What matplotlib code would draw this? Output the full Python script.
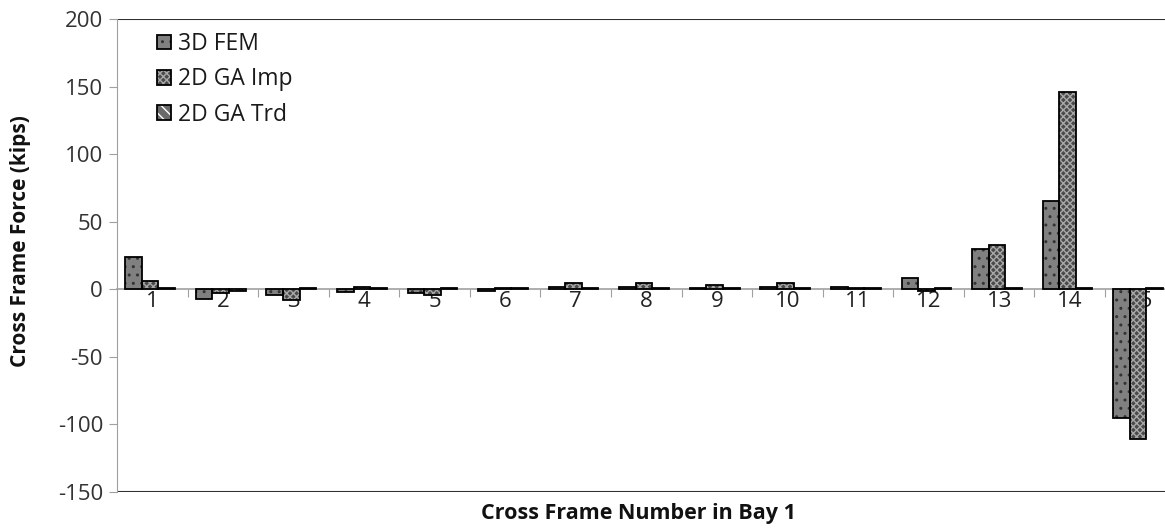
import matplotlib
matplotlib.use("Agg")
import matplotlib.pyplot as plt
from matplotlib.patches import Patch
import numpy as np

categories = [str(i) for i in range(1, 16)]
fem = [24, -7, -4, -2, -3, -1, 2, 2, 1, 2, 2, 8, 30, 65, -95]
ga_imp = [6, -3, -8, 2, -4, 1, 5, 5, 3, 5, 1, -1, 33, 146, -111]
ga_trd = [1, -1, 1, 1, 1, 1, 1, 1, 1, 1, 1, 1, 1, 1, 1]
series_names = ["3D FEM", "2D GA Imp", "2D GA Trd"]
yticks = [-150, -100, -50, 0, 50, 100, 150, 200]

plt.rcParams['font.family'] = ['Open Sans', 'DejaVu Sans']
plt.rcParams['hatch.linewidth'] = 1.0

fig = plt.figure(figsize=(11.65, 5.29), dpi=100)
W, H = 1165, 529
ax_left, ax_right, ax_top, ax_bot = 117, 1175.6, 19, 492
ax = fig.add_axes([ax_left / W, 1 - ax_bot / H, (ax_right - ax_left) / W, (ax_bot - ax_top) / H])

x = np.arange(len(categories))
bw = 0.235
offsets = [-bw - 0.03, -0.03, bw - 0.03]
styles = [
    dict(face="#808080", hatch="..", hcol="#333333"),
    dict(face="#4a4a4a", hatch="xxxxx", hcol="#a8a8a8"),
    dict(face="#6a6a6a", hatch="\\\\\\", hcol="#ffffff"),
]
handles = []
for vals, off, st in zip([fem, ga_imp, ga_trd], offsets, styles):
    ax.bar(x + off, vals, width=bw, color=st["face"], hatch=st["hatch"],
           edgecolor=st["hcol"], linewidth=0, zorder=3)
    ax.bar(x + off, vals, width=bw, facecolor="none", edgecolor="black",
           linewidth=1.3, zorder=4)
    h1 = Patch(facecolor=st["face"], hatch=st["hatch"], edgecolor=st["hcol"], linewidth=0)
    h2 = Patch(facecolor="none", edgecolor="black", linewidth=1.3)
    handles.append((h1, h2))

ax.set_xlim(-0.5, len(categories) - 0.5)
ax.set_ylim(-150, 200)

for s in ["top", "right"]:
    ax.spines[s].set_visible(False)
ax.spines["left"].set_color("#a0a0a0")
ax.spines["bottom"].set_position(("data", 0))
ax.spines["bottom"].set_color("#a0a0a0")
ax.spines["bottom"].set_linewidth(1.2)
ax.spines["bottom"].set_zorder(2)
ax.axhline(200, color="#303030", lw=1.5, zorder=1)
ax.axhline(-150, color="#303030", lw=1.5, zorder=1)

ax.set_yticks(yticks)
ax.set_yticklabels([str(v) for v in yticks])
ax.tick_params(axis="y", direction="out", length=6, color="#a0a0a0",
               labelsize=16, labelcolor="#333333", pad=4)

ax.set_xticks(x[:-1] + 0.5)
ax.set_xticklabels([])
ax.tick_params(axis="x", which="major", direction="out", length=6, color="#a0a0a0")
ax.set_xticks(x, minor=True)
ax.set_xticklabels(categories, minor=True)
ax.tick_params(axis="x", which="minor", length=0, labelsize=16,
               labelcolor="#222222", pad=1)
for lbl in ax.get_xticklabels(minor=True):
    lbl.set_zorder(6)

fig.text(638 / W, 1 - 514 / H, "Cross Frame Number in Bay 1", ha="center", va="center",
         fontsize=15.5, fontweight="bold", color="#111111")
fig.text(21 / W, 1 - 241 / H, "Cross Frame Force (kips)", ha="center", va="center",
         rotation=90, fontsize=15, fontweight="bold", color="#111111")

leg = ax.legend(handles, series_names, loc="upper left",
                bbox_to_anchor=((157 - ax_left) / (ax_right - ax_left), 1 - (32 - ax_top) / (ax_bot - ax_top)),
                frameon=False, fontsize=16.5, handlelength=0.62, handleheight=0.62,
                handletextpad=0.3, labelspacing=0.5, borderpad=0, borderaxespad=0)
for t in leg.get_texts():
    t.set_color("#1a1a1a")

fig.savefig("out.png", dpi=100)
